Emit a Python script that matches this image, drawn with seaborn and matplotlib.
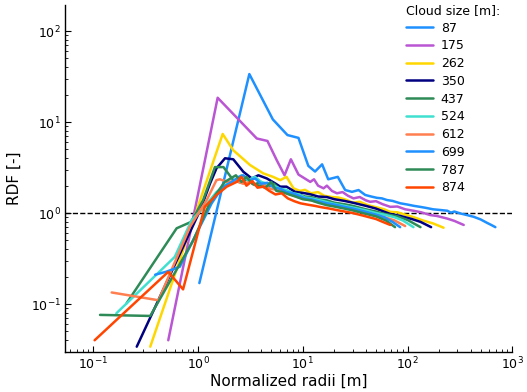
import numpy as np
import pandas as pd
import matplotlib
matplotlib.use("Agg")
import matplotlib.pyplot as plt
import seaborn as sns

sizes = ["87", "175", "262", "350", "437", "524", "612", "699", "787", "874"]
colors = ["dodgerblue", "mediumorchid", "gold", "navy", "seagreen",
          "turquoise", "coral", "dodgerblue", "seagreen", "orangered"]

r_87 = [1.03, 3.09, 5.18, 7.14, 9.1, 11.3, 13.1, 15.3, 17.5, 21.6, 25.4, 29.5, 34.1, 39.5, 45, 51, 57,
        63.7, 72, 85.4, 100, 115, 132, 150, 175, 206, 240, 260, 280, 320, 370, 428, 500, 575, 630, 690]
g_87 = [0.17, 33.7, 10.7, 7.2, 6.7, 3.3, 2.86, 3.43, 2.35, 2.5, 1.79, 1.71, 1.79, 1.58, 1.52, 1.47, 1.45,
        1.39, 1.36, 1.28, 1.24, 1.2, 1.17, 1.14, 1.1, 1.08, 1.06, 1.01, 1.04, 0.99, 0.95, 0.91, 0.85, 0.78, 0.74, 0.70]

r_175 = [0.52, 1.54, 3.64, 4.6, 5.65, 6.7, 7.7, 9.1, 11.8, 12.8, 14, 15.8, 17, 19, 21.2, 24, 27, 30.5,
         35, 40, 44, 50, 58, 68.5, 80, 95, 114, 135, 165, 190, 239, 280, 344]
g_175 = [0.040, 18.5, 6.6, 6.2, 3.8, 2.6, 3.9, 2.65, 2.2, 2.35, 2.0, 1.87, 2.0, 1.75, 1.65, 1.7, 1.55, 1.45,
         1.5, 1.38, 1.33, 1.35, 1.25, 1.17, 1.18, 1.1, 1.06, 1.02, 0.95, 0.93, 0.87, 0.82, 0.74]

r_262 = [0.35, 1.72, 2.17, 3.14, 4.2, 5.2, 6.1, 7.0, 8.15, 9.4, 10.5, 12, 14, 16, 19, 22, 26, 30, 35,
         42, 50, 60, 68.5, 80, 95, 115, 140, 175, 221]
g_262 = [0.034, 7.4, 4.9, 3.37, 2.73, 2.5, 2.3, 2.5, 1.87, 1.75, 1.8, 1.65, 1.7, 1.55, 1.5, 1.48, 1.4, 1.3, 1.33,
         1.22, 1.16, 1.1, 1.03, 1.02, 0.96, 0.9, 0.83, 0.77, 0.69]

r_350 = [0.26, 1.05, 1.3, 1.5, 1.81, 2.17, 2.71, 3.26, 3.77, 4.54, 5.45, 6.1, 7.0, 8.45, 10.5, 12, 14, 17,
         20, 25, 30, 40, 50, 68, 85, 110, 133, 168]
g_350 = [0.034, 1.08, 2.1, 3.1, 4.0, 3.9, 2.84, 2.4, 2.6, 2.4, 2.12, 1.95, 1.95, 1.71, 1.65, 1.6, 1.52, 1.5,
         1.42, 1.36, 1.3, 1.2, 1.12, 0.98, 0.93, 0.86, 0.8, 0.70]

r_437 = [0.208, 0.625, 0.86, 1.12, 1.45, 1.75, 2.17, 2.6, 3.0, 3.4, 4.0, 4.6, 5.3, 6.1, 7.0, 8.0, 9.2, 10.5,
         12, 14, 17, 20, 25, 30, 40, 50, 60, 80, 100, 133]
g_437 = [0.102, 0.68, 0.80, 1.39, 3.2, 3.2, 2.3, 2.15, 2.4, 2.05, 2.2, 1.9, 2.1, 1.8, 1.75, 1.65, 1.6, 1.52,
         1.5, 1.42, 1.38, 1.3, 1.25, 1.2, 1.1, 1.04, 0.98, 0.92, 0.84, 0.70]

r_524 = [0.166, 0.6, 0.87, 1.1, 1.5, 1.9, 2.3, 2.6, 3.0, 3.5, 4.0, 4.6, 5.3, 6.1, 7.0, 8.0, 9.2, 10.5, 12,
         14, 17, 20, 25, 30, 40, 50, 60, 75, 90, 114]
g_524 = [0.079, 0.33, 0.84, 1.1, 1.7, 2.1, 2.3, 2.6, 2.3, 2.5, 2.2, 2.1, 2.0, 1.85, 1.8, 1.65, 1.6, 1.48, 1.45,
         1.4, 1.32, 1.26, 1.2, 1.15, 1.07, 1.0, 0.96, 0.9, 0.83, 0.70]

r_612 = [0.15, 0.42, 0.84, 1.21, 1.5, 1.62, 1.9, 2.3, 2.7, 3.1, 3.6, 4.2, 4.9, 5.7, 6.6, 7.7, 9.0, 10.5,
         12, 14, 17, 20, 25, 30, 40, 50, 60, 75, 95]
g_612 = [0.134, 0.11, 0.71, 1.39, 2.3, 2.35, 2.2, 2.25, 2.1, 2.2, 2.0, 2.05, 1.85, 1.8, 1.7, 1.6, 1.5, 1.42,
         1.38, 1.32, 1.25, 1.2, 1.14, 1.1, 1.02, 0.95, 0.9, 0.83, 0.72]

r_699 = [0.39, 0.5, 0.67, 1.35, 1.7, 2.1, 2.45, 2.7, 3.1, 3.5, 4.0, 4.6, 5.3, 6.1, 7.0, 8.0, 9.2, 10.5, 12,
         14, 17, 20, 25, 30, 40, 50, 60, 72, 85]
g_699 = [0.21, 0.227, 0.257, 1.28, 1.9, 2.2, 2.5, 2.6, 2.3, 2.4, 2.1, 2.15, 1.9, 1.85, 1.7, 1.65, 1.55, 1.45,
         1.42, 1.35, 1.28, 1.24, 1.17, 1.12, 1.03, 0.96, 0.9, 0.8, 0.70]

r_787 = [0.116, 0.35, 0.9, 1.3, 1.8, 2.3, 2.6, 2.9, 3.3, 3.8, 4.4, 5.0, 5.6, 6.4, 7.4, 8.5, 10, 12, 14, 17,
         20, 25, 30, 40, 50, 62, 76]
g_787 = [0.076, 0.074, 0.5, 1.3, 2.2, 2.6, 2.2, 2.5, 2.1, 2.0, 1.9, 2.2, 1.75, 1.7, 1.6, 1.52, 1.42, 1.38,
         1.3, 1.22, 1.18, 1.12, 1.07, 0.98, 0.92, 0.83, 0.70]

r_874 = [0.103, 0.52, 0.72, 1.16, 1.5, 1.88, 2.34, 2.6, 2.9, 3.3, 3.7, 4.2, 4.8, 5.5, 6.3, 7.2, 8.3, 9.5,
         11, 13, 15, 18, 21, 25, 30, 36, 43, 50, 58, 68.5]
g_874 = [0.040, 0.226, 0.145, 1.17, 1.58, 1.95, 2.2, 2.5, 2.0, 2.25, 1.9, 1.95, 1.75, 1.6, 1.65, 1.45, 1.35,
         1.28, 1.24, 1.2, 1.16, 1.12, 1.08, 1.04, 1.0, 0.95, 0.9, 0.86, 0.8, 0.74]

radii = [r_87, r_175, r_262, r_350, r_437, r_524, r_612, r_699, r_787, r_874]
rdf = [g_87, g_175, g_262, g_350, g_437, g_524, g_612, g_699, g_787, g_874]

frames = []
for s, r, g in zip(sizes, radii, rdf):
    frames.append(pd.DataFrame({"radius": r, "rdf": g, "size": s}))
df = pd.concat(frames, ignore_index=True)

sns.set_style("ticks", {"xtick.direction": "in", "ytick.direction": "in"})
plt.rcParams["font.family"] = ["DejaVu Sans"]
plt.rcParams.update({"text.color": "black", "axes.labelcolor": "black",
                     "xtick.color": "black", "ytick.color": "black",
                     "axes.edgecolor": "black"})

fig = plt.figure(figsize=(5.27, 3.92), dpi=100)
ax = fig.add_axes([0.123, 0.102, 0.849, 0.885])

palette = dict(zip(sizes, colors))
sns.lineplot(data=df, x="radius", y="rdf", hue="size", hue_order=sizes, palette=palette,
             sort=False, estimator=None, units="size", lw=1.8, ax=ax)

ax.axhline(1.0, color="black", ls="--", lw=1.0, zorder=0.5)
ax.set_xscale("log")
ax.set_yscale("log")
ax.set_xlim(0.0535, 1000)
ax.set_ylim(0.0297, 193)
ax.set_xlabel("Normalized radii [m]", fontsize=11, labelpad=1)
ax.set_ylabel("RDF [-]", fontsize=11, labelpad=6)
ax.tick_params(which="major", direction="in", length=4, width=0.8, labelsize=9, pad=3)
ax.tick_params(which="minor", direction="in", length=2, width=0.6)
sns.despine(ax=ax)
for sp in ["left", "bottom"]:
    ax.spines[sp].set_linewidth(1.0)

leg = ax.legend(title="Cloud size [m]:", frameon=False, loc="upper right", fontsize=9,
                title_fontsize=9, handlelength=2.2, labelspacing=0.38, borderaxespad=0.0,
                handletextpad=0.6, bbox_to_anchor=(0.984, 1.018))
leg._legend_box.align = "left"

fig.savefig("out.png", dpi=100)
